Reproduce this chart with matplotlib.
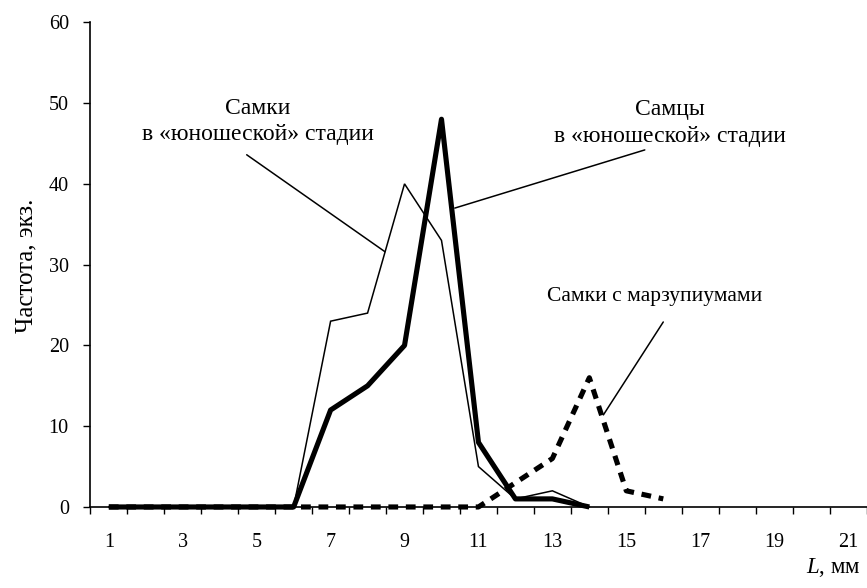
import numpy as np
import matplotlib
matplotlib.use('Agg')
import matplotlib.pyplot as plt

plt.rcParams['font.family'] = ['Liberation Serif', 'DejaVu Serif']
plt.rcParams['mathtext.fontset'] = 'custom'
plt.rcParams['mathtext.rm'] = 'Liberation Serif'
plt.rcParams['mathtext.it'] = 'Liberation Serif:italic'

# length classes, mm
L_cat = np.arange(1, 22)
x_tick_labels = [str(v) for v in L_cat[::2]]

# frequencies, specimens
fem_juv = [0, 0, 0, 0, 0, 0, 23, 24, 40, 33, 5, 1, 2, 0]
male_juv = [0, 0, 0, 0, 0, 0, 12, 15, 20, 48, 8, 1, 1, 0]
fem_mars = [0, 0, 0, 0, 0, 0, 0, 0, 0, 0, 0, 3, 6, 16, 2, 1]

fig = plt.figure(figsize=(8.67, 5.88), dpi=100)
ax = fig.add_axes([0.1042, 0.1378, 0.8953, 0.8243])

ax.plot(L_cat[:len(fem_juv)], fem_juv, color='black', lw=1.1,
        solid_joinstyle='miter', clip_on=False, zorder=3)
ax.plot(L_cat[:len(male_juv)], male_juv, color='black', lw=3.7,
        solid_joinstyle='round', solid_capstyle='butt', clip_on=False, zorder=4)
ax.plot(L_cat[:len(fem_mars)], fem_mars, color='black', lw=3.7,
        dashes=(1.9, 1.5), dash_capstyle='butt', clip_on=False, zorder=2)

ax.set_xlim(0.5, 21.5)
ax.set_ylim(0, 60)

ax.spines['top'].set_visible(False)
ax.spines['right'].set_visible(False)
ax.spines['left'].set_linewidth(1.2)
ax.spines['bottom'].set_linewidth(1.2)

ax.set_yticks(np.arange(0, 61, 10))
ax.tick_params(axis='y', direction='out', length=5, width=1, pad=10.5,
               labelsize=14.5)
ax.set_xticks(L_cat[::2])
ax.set_xticklabels(x_tick_labels)
ax.set_xticks(np.arange(0.5, 22, 1), minor=True)
ax.tick_params(axis='x', which='major', length=0, pad=19, labelsize=14.5)
ax.tick_params(axis='x', which='minor', direction='out', length=5, width=1)

fig.text(0.031, 0.548, 'Частота, экз.', rotation=90, ha='center', va='center',
         fontsize=18)
fig.text(0.993, 0.025, r'$L$, мм', ha='right', va='baseline', fontsize=16.5)

# captions
ax.text(5.04, 47.7, 'Самки\nв «юношеской» стадии', ha='center', va='center',
        fontsize=17, linespacing=1.35)
ax.text(16.19, 47.5, 'Самцы\nв «юношеской» стадии', ha='center', va='center',
        fontsize=17, linespacing=1.35)
ax.text(15.77, 26.0, 'Самки с марзупиумами', ha='center', va='center',
        fontsize=15.5)

# leader lines from captions to the curves
leaders = [((4.73, 43.6), (8.47, 31.6)),
           ((15.50, 44.2), (10.36, 37.0)),
           ((16.00, 22.9), (14.38, 11.4))]
for start, end in leaders:
    ax.annotate('', xy=end, xytext=start,
                arrowprops=dict(arrowstyle='-', color='black', lw=1.1,
                                shrinkA=0, shrinkB=0))

fig.savefig('out.png', dpi=100)
